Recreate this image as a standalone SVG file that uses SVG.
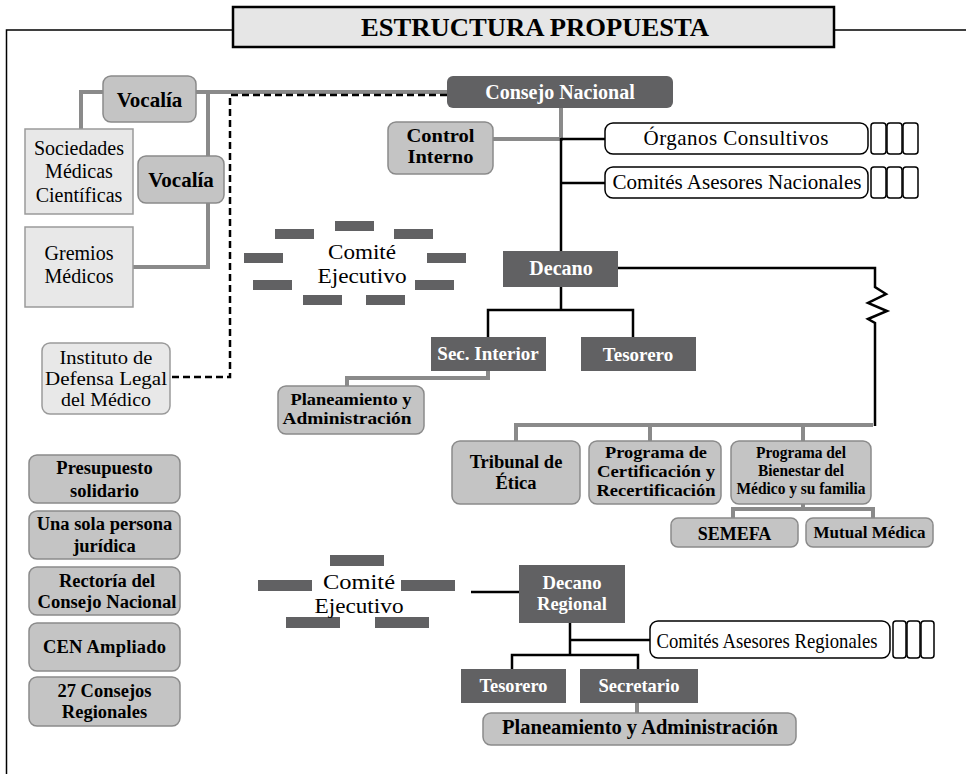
<svg xmlns="http://www.w3.org/2000/svg" width="966" height="774" viewBox="0 0 966 774">
<style>
text{font-family:"Liberation Serif","Times New Roman",serif;text-anchor:middle}
.b{font-weight:bold}
.w{fill:#fff}
.dark{fill:#616163}
.mid{fill:#c4c4c4;stroke:#8a8a8a;stroke-width:1.5}
.lite{fill:#e8e8e8;stroke:#9a9a9a;stroke-width:1.5}
.open{fill:#fff;stroke:#000;stroke-width:1.5}
.blk{fill:none;stroke:#000;stroke-width:2.5}
.gry{fill:none;stroke:#8a8a8a;stroke-width:4}
.dsh{fill:none;stroke:#000;stroke-width:2.5;stroke-dasharray:7 4}
.frm{fill:none;stroke:#000;stroke-width:1.5}
</style>
<rect width="966" height="774" fill="#fff"/>
<g id="frame">
<path class="frm" d="M6.5,774 V30 H233 M834,30 H966"/>
</g>
<g id="title">
<rect x="233" y="7" width="601" height="40" fill="#e6e6e6" stroke="#000" stroke-width="2.5"/>
<text x="535" y="36" class="b" font-size="26" textLength="348" lengthAdjust="spacingAndGlyphs">ESTRUCTURA PROPUESTA</text>
</g>
<g id="connectors">
<path class="gry" d="M103,92 H81 V129"/>
<path class="gry" d="M196,92 H447"/>
<path class="gry" d="M208,92 V156 M208,203 V267 H133"/>
<path class="gry" d="M561,108 V139 H493"/>
<path class="gry" d="M488,371 V378 H347 V386"/>
<path class="gry" d="M516,441 V425 H873 M650,425 V441 M803,425 V441"/>
<path class="gry" d="M803,504 V509 M733,518 V509 H873 V518"/>
<path class="gry" d="M637,703 V713"/>
<path class="dsh" d="M447,95 H230 V377 H170"/>
<path class="blk" d="M561,138 V251 M561,139 H605 M561,183 H605"/>
<path class="blk" d="M618,268 H875 V287 L886,294 L868,303 L887,311 L868,319 L875,323 V426"/>
<path class="blk" d="M561,287 V310 M488,337 V310 H633 V337"/>
<path class="blk" d="M471,592 H519 M570,623 V655 M570,640 H650 M512,669 V655 H638 V669"/>
</g>
<g id="vocalia1">
<rect class="mid" x="103" y="76" width="93" height="46" rx="8"/>
<text x="149.5" y="107" class="b" font-size="21">Vocalía</text>
</g>
<g id="vocalia2">
<rect class="mid" x="138" y="156" width="86" height="47" rx="8"/>
<text x="181" y="187" class="b" font-size="21">Vocalía</text>
</g>
<g id="sociedades">
<rect class="lite" x="25" y="129" width="108" height="85"/>
<text x="79" y="155" font-size="20">Sociedades</text>
<text x="79" y="178" font-size="20">Médicas</text>
<text x="79" y="202" font-size="20">Científicas</text>
</g>
<g id="gremios">
<rect class="lite" x="25" y="227" width="108" height="80"/>
<text x="79" y="260" font-size="20">Gremios</text>
<text x="79" y="283" font-size="20">Médicos</text>
</g>
<g id="consejo">
<rect class="dark" x="447" y="76" width="226" height="32" rx="6"/>
<text x="560" y="99" class="b w" font-size="20">Consejo Nacional</text>
</g>
<g id="control">
<rect class="mid" x="388" y="122" width="105" height="52" rx="8"/>
<text x="440.5" y="142" class="b" font-size="19" textLength="68" lengthAdjust="spacingAndGlyphs">Control</text>
<text x="440.5" y="163" class="b" font-size="19" textLength="66" lengthAdjust="spacingAndGlyphs">Interno</text>
</g>
<g id="organos">
<rect class="open" x="605" y="123" width="263" height="31" rx="8"/>
<rect class="open" x="871" y="123" width="15" height="31" rx="3"/>
<rect class="open" x="887" y="123" width="15" height="31" rx="3"/>
<rect class="open" x="903" y="123" width="15" height="31" rx="3"/>
<text x="736" y="145" font-size="21" textLength="185" lengthAdjust="spacing">Órganos Consultivos</text>
</g>
<g id="comites-nac">
<rect class="open" x="605" y="167" width="263" height="31" rx="8"/>
<rect class="open" x="871" y="167" width="15" height="31" rx="3"/>
<rect class="open" x="887" y="167" width="15" height="31" rx="3"/>
<rect class="open" x="903" y="167" width="15" height="31" rx="3"/>
<text x="737" y="189" font-size="21" textLength="249" lengthAdjust="spacingAndGlyphs">Comités Asesores Nacionales</text>
</g>
<g id="comite-ejecutivo">
<rect class="dark" x="275" y="229" width="39" height="10"/>
<rect class="dark" x="335" y="221" width="39" height="10"/>
<rect class="dark" x="394" y="229" width="39" height="10"/>
<rect class="dark" x="244" y="253" width="39" height="10"/>
<rect class="dark" x="427" y="253" width="39" height="10"/>
<rect class="dark" x="253" y="280" width="39" height="10"/>
<rect class="dark" x="415" y="280" width="39" height="10"/>
<rect class="dark" x="303" y="295" width="39" height="10"/>
<rect class="dark" x="366" y="295" width="39" height="10"/>
<text x="362" y="259" font-size="21.5" textLength="68" lengthAdjust="spacingAndGlyphs">Comité</text>
<text x="362" y="283" font-size="21.5" textLength="89" lengthAdjust="spacingAndGlyphs">Ejecutivo</text>
</g>
<g id="decano">
<rect class="dark" x="503" y="251" width="115" height="36"/>
<text x="561" y="275" class="b w" font-size="20">Decano</text>
</g>
<g id="sec-interior">
<rect class="dark" x="431" y="337" width="115" height="34"/>
<text x="488" y="360" class="b w" font-size="19">Sec. Interior</text>
</g>
<g id="tesorero">
<rect class="dark" x="581" y="337" width="115" height="34"/>
<text x="638" y="361" class="b w" font-size="19">Tesorero</text>
</g>
<g id="instituto">
<rect class="lite" x="42" y="343" width="128" height="71" rx="8"/>
<text x="106" y="364" font-size="19" textLength="93" lengthAdjust="spacingAndGlyphs">Instituto de</text>
<text x="106" y="385" font-size="19" textLength="122" lengthAdjust="spacingAndGlyphs">Defensa Legal</text>
<text x="106" y="406" font-size="19" textLength="90" lengthAdjust="spacingAndGlyphs">del Médico</text>
</g>
<g id="planeamiento1">
<rect class="mid" x="278" y="386" width="146" height="48" rx="8"/>
<text x="351" y="405" class="b" font-size="17" textLength="121" lengthAdjust="spacingAndGlyphs">Planeamiento y</text>
<text x="347" y="424" class="b" font-size="17" textLength="129" lengthAdjust="spacingAndGlyphs">Administración</text>
</g>
<g id="tribunal">
<rect class="mid" x="452" y="441" width="128" height="63" rx="8"/>
<text x="516" y="468" class="b" font-size="18.5">Tribunal de</text>
<text x="516" y="489" class="b" font-size="18.5">Ética</text>
</g>
<g id="certificacion">
<rect class="mid" x="589" y="441" width="132" height="63" rx="8"/>
<text x="656" y="458" class="b" font-size="17" textLength="102" lengthAdjust="spacingAndGlyphs">Programa de</text>
<text x="656" y="477" class="b" font-size="17" textLength="118" lengthAdjust="spacingAndGlyphs">Certificación y</text>
<text x="656" y="496" class="b" font-size="17" textLength="119" lengthAdjust="spacingAndGlyphs">Recertificación</text>
</g>
<g id="bienestar">
<rect class="mid" x="731" y="441" width="140" height="63" rx="8"/>
<text x="801" y="458" class="b" font-size="16" textLength="90" lengthAdjust="spacingAndGlyphs">Programa del</text>
<text x="801" y="476" class="b" font-size="16" textLength="86" lengthAdjust="spacingAndGlyphs">Bienestar del</text>
<text x="801" y="494" class="b" font-size="16" textLength="129" lengthAdjust="spacingAndGlyphs">Médico y su familia</text>
</g>
<g id="semefa">
<rect class="mid" x="671" y="518" width="127" height="29" rx="7"/>
<text x="734.5" y="540" class="b" font-size="18">SEMEFA</text>
</g>
<g id="mutual">
<rect class="mid" x="806" y="518" width="127" height="29" rx="7"/>
<text x="869.5" y="538" class="b" font-size="17">Mutual Médica</text>
</g>
<g id="presupuesto">
<rect class="mid" x="29" y="455" width="151" height="48" rx="8"/>
<text x="104.5" y="474" class="b" font-size="18.5">Presupuesto</text>
<text x="104.5" y="497" class="b" font-size="18.5">solidario</text>
</g>
<g id="persona">
<rect class="mid" x="29" y="511" width="151" height="48" rx="8"/>
<text x="104.5" y="530" class="b" font-size="18.5">Una sola persona</text>
<text x="104.5" y="552" class="b" font-size="18.5">jurídica</text>
</g>
<g id="rectoria">
<rect class="mid" x="29" y="567" width="151" height="48" rx="8"/>
<text x="107" y="587" class="b" font-size="18.5">Rectoría del</text>
<text x="107" y="608" class="b" font-size="18.5" textLength="139" lengthAdjust="spacingAndGlyphs">Consejo Nacional</text>
</g>
<g id="cen">
<rect class="mid" x="29" y="623" width="151" height="48" rx="8"/>
<text x="104.5" y="653" class="b" font-size="18.5" textLength="123" lengthAdjust="spacing">CEN Ampliado</text>
</g>
<g id="consejos">
<rect class="mid" x="29" y="677" width="151" height="49" rx="8"/>
<text x="104.5" y="697" class="b" font-size="18.5">27 Consejos</text>
<text x="104.5" y="718" class="b" font-size="18.5">Regionales</text>
</g>
<g id="comite-ejecutivo-regional">
<rect class="dark" x="330" y="555" width="54" height="11"/>
<rect class="dark" x="258" y="580" width="54" height="11"/>
<rect class="dark" x="401" y="580" width="54" height="11"/>
<rect class="dark" x="286" y="617" width="54" height="11"/>
<rect class="dark" x="375" y="617" width="54" height="11"/>
<text x="359" y="589" font-size="22" textLength="72" lengthAdjust="spacingAndGlyphs">Comité</text>
<text x="359" y="613" font-size="22" textLength="89" lengthAdjust="spacingAndGlyphs">Ejecutivo</text>
</g>
<g id="decano-regional">
<rect class="dark" x="519" y="565" width="106" height="58"/>
<text x="572" y="589" class="b w" font-size="19" textLength="59" lengthAdjust="spacingAndGlyphs">Decano</text>
<text x="572" y="610" class="b w" font-size="19" textLength="70" lengthAdjust="spacingAndGlyphs">Regional</text>
</g>
<g id="comites-reg">
<rect class="open" x="650" y="621" width="240" height="37" rx="8"/>
<rect class="open" x="893" y="621" width="13" height="37" rx="3"/>
<rect class="open" x="907" y="621" width="13" height="37" rx="3"/>
<rect class="open" x="921" y="621" width="13" height="37" rx="3"/>
<text x="767" y="648" font-size="21" textLength="221" lengthAdjust="spacingAndGlyphs">Comités Asesores Regionales</text>
</g>
<g id="tesorero-regional">
<rect class="dark" x="461" y="669" width="105" height="34"/>
<text x="513.5" y="692" class="b w" font-size="19" textLength="68" lengthAdjust="spacingAndGlyphs">Tesorero</text>
</g>
<g id="secretario">
<rect class="dark" x="580" y="669" width="118" height="34"/>
<text x="639" y="692" class="b w" font-size="19" textLength="81" lengthAdjust="spacingAndGlyphs">Secretario</text>
</g>
<g id="planeamiento2">
<rect class="mid" x="483" y="713" width="313" height="32" rx="8"/>
<text x="640" y="734" class="b" font-size="20" textLength="276" lengthAdjust="spacingAndGlyphs">Planeamiento y Administración</text>
</g>
</svg>
